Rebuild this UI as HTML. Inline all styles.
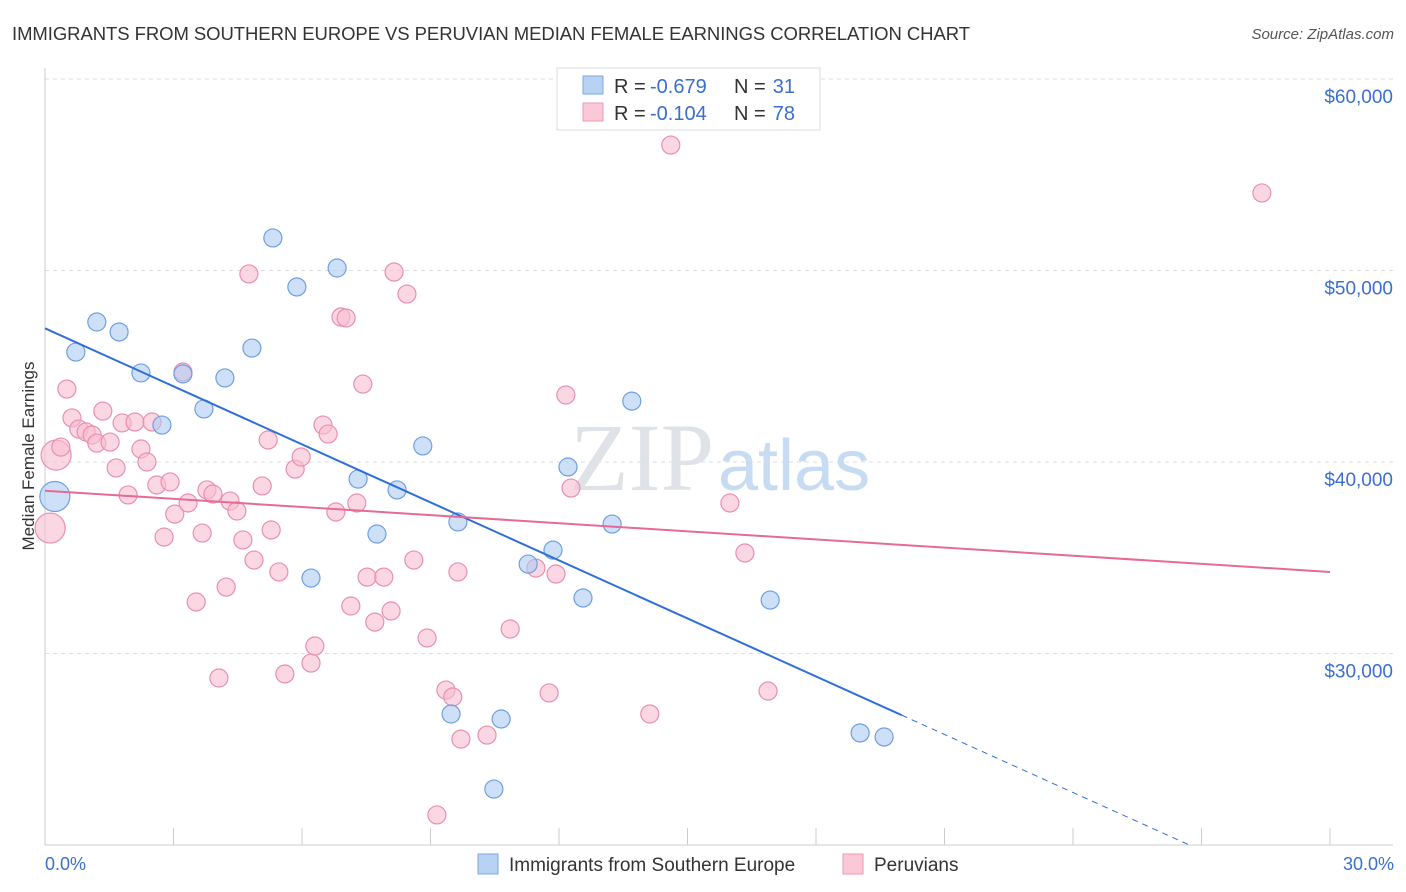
<!DOCTYPE html>
<html><head><meta charset="utf-8"><style>
body{margin:0;background:#fff;font-family:"Liberation Sans",sans-serif;}
svg{display:block}
</style></head><body>
<svg id="chart" width="1406" height="892">
<text x="12" y="40" font-size="18.5" fill="#333" textLength="958">IMMIGRANTS FROM SOUTHERN EUROPE VS PERUVIAN MEDIAN FEMALE EARNINGS CORRELATION CHART</text>
<text x="1394" y="39" font-size="15" fill="#555" text-anchor="end" font-style="italic">Source: ZipAtlas.com</text>
<g id="grid"></g>
<text x="714" y="490" font-size="96" fill="#dfe3e8" text-anchor="end" font-family="Liberation Serif,serif">ZIP</text>
<text x="718" y="490" font-size="72" fill="#c7dbf2">atlas</text>
<g id="marks"></g>
<text transform="translate(34,456) rotate(-90)" font-size="17" fill="#333" text-anchor="middle">Median Female Earnings</text>
<g>
<rect x="557" y="68" width="263" height="62" fill="#fff" stroke="#ddd"/>
<rect x="583" y="76" width="20" height="18" fill="#b8d2f4" stroke="#7fa8e0"/>
<rect x="583" y="103" width="20" height="18" fill="#fac8d6" stroke="#ee9ab4"/>
<text x="614" y="93" font-size="20" fill="#333">R =</text>
<text x="650" y="93" font-size="20" fill="#3a6fd0">-0.679</text>
<text x="734" y="93" font-size="20" fill="#333">N =</text>
<text x="795" y="93" font-size="20" fill="#3a6fd0" text-anchor="end">31</text>
<text x="614" y="120" font-size="20" fill="#333">R =</text>
<text x="650" y="120" font-size="20" fill="#3a6fd0">-0.104</text>
<text x="734" y="120" font-size="20" fill="#333">N =</text>
<text x="795" y="120" font-size="20" fill="#3a6fd0" text-anchor="end">78</text>
</g>
<g>
<rect x="478" y="854" width="20" height="20" fill="#b8d2f4" stroke="#7fa8e0"/>
<text x="509" y="871" font-size="19" fill="#333">Immigrants from Southern Europe</text>
<rect x="843" y="854" width="20" height="20" fill="#fac8d6" stroke="#ee9ab4"/>
<text x="874" y="871" font-size="19" fill="#333">Peruvians</text>
</g>
<text x="45" y="870" font-size="18" fill="#3a6fd0">0.0%</text>
<text x="1394" y="870" font-size="18" fill="#3a6fd0" text-anchor="end">30.0%</text>
</svg>
<script>
const yTicks=[30000,40000,50000,60000];
const yTickLabels=["$30,000","$40,000","$50,000","$60,000"];
const blueX=[0.23,0.72,1.21,1.73,2.24,2.73,3.22,3.71,4.20,4.83,5.32,5.88,6.21,6.82,7.31,7.75,8.22,8.82,9.64,10.65,10.48,9.48,11.28,11.86,12.21,12.56,13.24,13.70,16.93,19.03,19.59];
const blueY=[38200,45740,47310,46790,44650,41930,44600,42770,44390,45950,51700,49140,33940,50130,39110,36240,38540,40840,36870,26580,22920,26840,34670,35400,39740,32900,36760,43180,32790,25850,25640];
const pinkX=[0.12,0.26,0.37,0.51,0.63,0.79,0.96,1.10,1.21,1.35,1.52,1.66,1.80,1.94,2.10,2.24,2.38,2.50,2.61,2.78,2.92,3.03,3.22,3.34,3.53,3.67,3.78,3.92,4.06,4.23,4.32,4.48,4.62,4.76,4.88,5.07,5.21,5.28,5.46,5.60,5.84,5.98,6.21,6.30,6.49,6.61,6.79,6.91,7.03,7.14,7.28,7.42,7.52,7.70,7.91,8.08,8.15,8.45,8.61,8.92,9.15,9.36,9.52,9.64,9.71,10.32,10.86,11.46,11.77,11.93,12.16,12.28,14.12,14.61,15.99,16.34,16.88,28.41];
const pinkY=[36550,40360,40780,43810,42300,41720,41570,41410,40990,42660,41040,39690,42040,38280,42090,40680,40000,42090,38800,36080,38960,37280,44700,37860,32690,36290,38540,38330,28720,33470,37960,37440,35930,49820,34880,38750,41150,36450,34260,28930,39630,40260,29500,30390,41930,41460,37390,47570,47520,32480,37860,44070,33990,31640,33990,32220,49920,48770,34880,30810,21570,28090,27730,34260,25530,25740,31280,34460,27940,34150,43500,38640,26840,56550,37860,35250,28040,54050];
const blueBig=[0];
const pinkBig=[0,1];
const xs=v=>45+v*(1285/30);
const ys=v=>845-(v-20000)*(766/40000);
const NS="http://www.w3.org/2000/svg";
const grid=document.getElementById('grid'),marks=document.getElementById('marks');
function mk(tag,attrs,parent){const e=document.createElementNS(NS,tag);for(const k in attrs)e.setAttribute(k,attrs[k]);parent.appendChild(e);return e;}
yTicks.forEach((t,i)=>{
 const l=mk('line',{x1:45,x2:1393,y1:ys(t),y2:ys(t),stroke:'#ddd','stroke-dasharray':'4,4'},grid);
 
 
 const tx=mk('text',{x:1393,y:ys(t)+24,'font-size':19,fill:'#3a6fd0','text-anchor':'end'},grid);
 tx.textContent=yTickLabels[i];
 
 
});
const ax=mk('line',{x1:45,x2:45,y1:68,y2:845,stroke:'#ccc'},grid);


const bx=mk('line',{x1:45,x2:1393,y1:845,y2:845,stroke:'#ccc'},grid);


for(let p=0;p<=30;p+=3){
 const t=mk('line',{x1:xs(p),x2:xs(p),y1:828,y2:845,stroke:'#ccc'},grid);
 
 
}
function pts(X,Y,big,fill,stroke,name){
 X.forEach((x,i)=>{
  const c=mk('circle',{cx:xs(x),cy:ys(Y[i]),r:big.includes(i)?15:9,fill:fill,'fill-opacity':0.6,stroke:stroke,'stroke-width':1.2},marks);
  
  
 });
}
pts(pinkX,pinkY,pinkBig,'#f8bcd0','#e890ad','peruvian-point');
pts(blueX,blueY,blueBig,'#aecbf2','#6f9fe0','southern-europe-point');
function fit(X,Y){const n=X.length;let mx=0,my=0;X.forEach((x,i)=>{mx+=x;my+=Y[i]});mx/=n;my/=n;let sxy=0,sxx=0;X.forEach((x,i)=>{sxy+=(x-mx)*(Y[i]-my);sxx+=(x-mx)*(x-mx)});const b=sxy/sxx;return [my-b*mx,b];}
const [ba,bb]=fit(blueX,blueY),[pa,pb]=fit(pinkX,pinkY);
const bEnd=20;
let l1=mk('line',{x1:xs(0),y1:ys(ba),x2:xs(bEnd),y2:ys(ba+bb*bEnd),stroke:'#2f6fd6','stroke-width':2},marks);


const xz=Math.min(30,(20000-ba)/bb);
let l2=mk('line',{x1:xs(bEnd),y1:ys(ba+bb*bEnd),x2:xs(xz),y2:ys(ba+bb*xz),stroke:'#2f6fd6','stroke-width':1,'stroke-dasharray':'6,5'},marks);


let l3=mk('line',{x1:xs(0),y1:ys(pa),x2:xs(30),y2:ys(pa+pb*30),stroke:'#e66a96','stroke-width':2},marks);


</script>
</body></html>
